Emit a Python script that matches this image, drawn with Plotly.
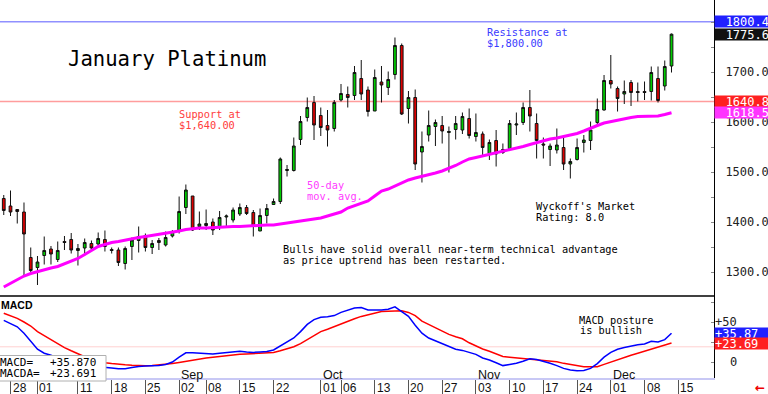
import numpy as np
import plotly.graph_objects as go

# ---------------- data ----------------
HOLIDAYS = ['2025-09-01']
dates = [str(d) for d in np.arange(np.datetime64('2025-07-25'), np.datetime64('2025-12-13'))
         if np.is_busday(d, holidays=HOLIDAYS)]

open_ = [1447,1432,1425,1420,1329,1309,1333,1346,1325,1361,
         1365,1343,1348,1357,1356,1365,1345,1344,1317,1351,
         1363,1373,1349,1363,1354,1372,1381,1429,1452,1391,
         1393,1400,1389,1410,1404,1416,1429,1419,1382,1413,
         1435,1441,1503,1503,1565,1609,1639,1613,1593,1587,
         1644,1655,1653,1687,1664,1622,1680,1669,1695,1753,
         1627,1649,1540,1574,1591,1593,1579,1585,1584,1607,
         1571,1576,1537,1563,1539,1547,1594,1599,1629,1597,
         1556,1545,1544,1549,1516,1525,1559,1563,1599,1624,
         1683,1667,1656,1679,1661,1661,1661,1687,1672,1712]
high = [1454,1463,1426,1439,1349,1332,1371,1352,1361,1372,
        1378,1356,1367,1363,1379,1383,1349,1349,1351,1369,
        1391,1377,1364,1368,1381,1384,1451,1475,1452,1421,
        1425,1407,1422,1415,1429,1437,1434,1424,1427,1436,
        1447,1529,1514,1569,1612,1649,1652,1629,1624,1644,
        1676,1671,1712,1724,1671,1705,1712,1701,1769,1757,
        1662,1665,1581,1623,1605,1612,1591,1612,1619,1627,
        1617,1581,1565,1584,1557,1604,1619,1639,1664,1617,
        1569,1557,1587,1571,1527,1567,1574,1601,1647,1694,
        1734,1671,1683,1684,1679,1681,1711,1711,1723,1777]
low = [1414,1412,1397,1292,1296,1274,1315,1315,1320,1344,
       1337,1313,1333,1344,1354,1341,1337,1312,1305,1324,
       1339,1341,1336,1344,1351,1369,1377,1416,1382,1384,
       1384,1374,1384,1391,1399,1412,1414,1371,1382,1397,
       1434,1436,1491,1501,1554,1601,1564,1572,1551,1581,
       1641,1629,1644,1644,1611,1622,1639,1654,1685,1614,
       1597,1504,1479,1561,1552,1557,1499,1565,1576,1567,
       1561,1531,1524,1511,1536,1544,1574,1594,1581,1527,
       1527,1512,1537,1504,1487,1523,1539,1544,1592,1623,
       1667,1621,1636,1632,1641,1644,1643,1639,1663,1699]
close = [1423,1420,1421,1376,1303,1320,1343,1336,1343,1359,
         1344,1347,1359,1348,1367,1351,1343,1319,1347,1364,
         1371,1349,1357,1359,1369,1381,1421,1464,1384,1396,
         1397,1384,1409,1412,1424,1429,1417,1392,1413,1427,
         1441,1526,1505,1552,1601,1629,1594,1589,1584,1639,
         1657,1649,1699,1656,1621,1689,1674,1685,1753,1616,
         1649,1516,1551,1593,1599,1582,1581,1597,1611,1573,
         1579,1549,1559,1536,1545,1597,1596,1629,1612,1563,
         1554,1552,1554,1516,1521,1549,1564,1584,1625,1683,
         1676,1647,1661,1659,1659,1659,1699,1643,1711,1775.6]
ma50 = [1270,1277,1285,1292,1297,1301,1304,1308,1311,1316,
        1321,1327,1335,1343,1351,1355,1359,1361,1364,1367,
        1369,1371,1373,1375,1377,1380,1382,1385,1387,1388,
        1388,1389,1390,1390,1391,1391,1392,1393,1394,1394,
        1394,1396,1397,1399,1401,1403,1405,1408,1412,1416,
        1420,1428,1433,1437,1442,1452,1462,1466,1472,1478,
        1484,1488,1491,1494,1498,1502,1507,1513,1520,1526,
        1529,1532,1535,1538,1541,1544,1547,1551,1555,1559,
        1562,1566,1568,1571,1574,1577,1582,1588,1593,1598,
        1601,1604,1607,1609,1611,1611,1611,1612,1615,1618.5]
macd = [52,48.5,44,36,26,16,11,8.5,5,2,
        -1,-3,-4.5,-5.5,-6,-6.5,-7.5,-8.5,-8.5,-7,
        -5.5,-5,-4.5,-4.5,-3,0,6,11.5,11.5,11,
        11,10,11,12,13,13.5,12.5,12,12.5,13,
        15,20,25,30,38,47,53,56,56.5,58,
        62,65,67.5,68,65,65,65,66,69,63,
        57,46,36,30,26.5,23,18.5,16,14.5,12,
        9.5,5,2.5,-1,-4.5,-3,-1.5,1,4,3,
        1,-1.5,-4.5,-8,-10,-11,-10.5,-8,-2,6,
        12,16,18,20,21.5,22.5,26,25,28,35.87]
macda = [61,58,54.5,50,45,38,33,28,22.5,18,
         14,10,6.5,3.5,1,-1,-2,-3,-3.5,-4,
         -4.5,-4.6,-4.3,-3.8,-3,-2,-0.5,1,2.5,4,
         5,6,7,8,9,9.6,10,10.7,11.2,11.7,
         12,14,16.5,19,23,28,33,38,41,44.5,
         48,51,54,57,59,61,63,63.5,64,64,
         62,58,51,47,43,38,34.5,31.5,29,24,
         20,16.3,13.5,10,7,6,5.2,4.7,3.8,3,
         2.5,1.5,0.3,-1.7,-3,-4.5,-5.8,-6,-5.8,-3,
         0,2.5,5.5,8.5,11,13.5,16,18.5,21,23.69]

tick_dates = ['2025-07-28','2025-08-01','2025-08-11','2025-08-18','2025-08-25','2025-09-02',
              '2025-09-08','2025-09-15','2025-09-22','2025-10-01','2025-10-06','2025-10-13',
              '2025-10-20','2025-10-27','2025-11-03','2025-11-10','2025-11-17','2025-11-24',
              '2025-12-01','2025-12-08','2025-12-15']
tick_text = ['28','01','11','18','25','02','08','15','22','01','06','13','20','27','03','10',
             '17','24','01','08','15']
month_dates = ['2025-09-02','2025-10-01','2025-11-03','2025-12-01']
month_text = ['Sep','Oct','Nov','Dec']
price_ticks = [1300, 1400, 1500, 1600, 1700]
resistance = 1800.4
support = 1640.8
macd_ref = 19

# ---------------- helpers ----------------
def pos(d):
    return int(np.busday_count(dates[0], d, holidays=HOLIDAYS))

xpos = [pos(d) for d in dates]
PLOT_W, PLOT_H = 714, 378
SPLIT = (PLOT_H - 296) / PLOT_H

def px(x):
    return x / PLOT_W

def py(y):
    return (PLOT_H - y) / PLOT_H

MONO = 'DejaVu Sans Mono'
SANS = 'Liberation Sans'

fig = go.Figure()
fig.add_trace(go.Candlestick(
    x=xpos, open=open_, high=high, low=low, close=close,
    increasing=dict(fillcolor='#00cc00', line=dict(color='#111111', width=1)),
    decreasing=dict(fillcolor='#dd0000', line=dict(color='#111111', width=1)),
    whiskerwidth=0, hoverinfo='skip', xaxis='x', yaxis='y'))
fig.add_trace(go.Scatter(x=xpos, y=ma50, mode='lines',
                         line=dict(color='#ff00ff', width=3), xaxis='x', yaxis='y'))
fig.add_trace(go.Scatter(x=xpos, y=macda, mode='lines',
                         line=dict(color='#ff0000', width=1.5), xaxis='x', yaxis='y2'))
fig.add_trace(go.Scatter(x=xpos, y=macd, mode='lines',
                         line=dict(color='#0000ff', width=1.5), xaxis='x', yaxis='y2'))

shapes = [
    dict(type='line', xref='paper', yref='y', x0=0, x1=1, y0=resistance, y1=resistance,
         line=dict(color='#9090ff', width=1.5), layer='below'),
    dict(type='line', xref='paper', yref='y', x0=0, x1=1, y0=support, y1=support,
         line=dict(color='#ff9d9d', width=1.5), layer='below'),
    dict(type='line', xref='paper', yref='y2', x0=0, x1=1, y0=macd_ref, y1=macd_ref,
         line=dict(color='#ffd0d0', width=1), layer='below'),
    dict(type='line', xref='paper', yref='paper', x0=0, x1=1, y0=SPLIT, y1=SPLIT,
         line=dict(color='#000000', width=1.5)),
    dict(type='rect', xref='paper', yref='paper', x0=px(-3), x1=px(106), y0=py(381), y1=py(355.5),
         line=dict(color='#b0b0b0', width=1), fillcolor='#ffffff'),
]

ann = []

def note(text, x, y, color='#000000', size=10.3, family=MONO, xanchor='left', bold=False):
    ann.append(dict(text=text, xref='paper', yref='paper', x=px(x), y=py(y),
                    xanchor=xanchor, yanchor='middle', showarrow=False,
                    font=dict(family=family, size=size, color=color,
                              weight='bold' if bold else 'normal')))

note('January Platinum', 66, 59, size=20.6)
note('Resistance at', 485, 31.5, color='#3a3aff')
note('$1,800.00', 485, 43, color='#3a3aff')
note('Support at', 177, 114, color='#ff3c3c')
note('$1,640.00', 177, 125.5, color='#ff3c3c')
note('50-day', 305, 185.5, color='#ff3cff')
note('mov. avg.', 305, 196.5, color='#ff3cff')
note("Wyckoff's Market", 534, 206)
note('Rating: 8.0', 534, 217)
note('Bulls have solid overall near-term technical advantage', 281, 249)
note('as price uptrend has been restarted.', 281, 260)
note('MACD posture', 577, 319.5)
note('is bullish', 578, 330)
note('MACD', -1, 304.5, size=10.5, family=SANS, bold=True)
note('MACD=', -2, 362, size=11)
note('+35.870', 48, 362, size=11)
note('MACDA=', -2, 373.5, size=11)
note('+23.691', 48, 373.5, size=11)
note('+50', 739, 322, size=12, color='#222222', xanchor='right')
note('0', 739, 362, size=12, color='#222222', xanchor='right')
note('\u2190', 767, 388, size=12, color='#ee0000', family='DejaVu Sans', bold=True, xanchor='right')

for d, t in zip(tick_dates, tick_text):
    ann.append(dict(text=t, xref='x', yref='paper', x=pos(d), y=py(388.5),
                    xanchor='left', yanchor='middle', showarrow=False, xshift=0,
                    font=dict(family=SANS, size=12, color='#111111')))
for d, t in zip(month_dates, month_text):
    ann.append(dict(text=t, xref='x', yref='paper', x=pos(d), y=py(375),
                    xanchor='left', yanchor='middle', showarrow=False, xshift=0,
                    font=dict(family=SANS, size=12.5, color='#111111')))

def valbox(text, yval, yref, bg, align):
    ann.append(dict(text=text, xref='paper', yref=yref, x=1, y=yval, xanchor='left',
                    yanchor='middle', showarrow=False, bgcolor=bg, width=54, height=11,
                    borderpad=0, align=align,
                    font=dict(family=MONO, size=12, color='#ffffff')))

valbox('1800.4', resistance, 'y', '#2020ff', 'right')
valbox('1775.6', close[-1], 'y', '#111111', 'right')
valbox('1640.8', support, 'y', '#ff2020', 'right')
valbox('1618.5', ma50[-1], 'y', '#ff33ff', 'right')
valbox('+35.87', macd[-1], 'y2', '#2020ff', 'left')
valbox('+23.69', macda[-1], 'y2', '#ff2020', 'left')

fig.update_layout(
    width=768, height=394, margin=dict(l=0, r=54, t=0, b=16, pad=0),
    paper_bgcolor='#ffffff', plot_bgcolor='#ffffff', showlegend=False,
    boxgap=0.42,
    xaxis=dict(domain=[0, 1], range=[-0.557, 105.3], anchor='y2', showline=True,
               linecolor='#c8c8f5', linewidth=1.5, ticks='outside', ticklen=16,
               tickcolor='#555555', tickwidth=1, tickmode='array',
               tickvals=[pos(d) for d in tick_dates], showticklabels=False,
               showgrid=False, zeroline=False, rangeslider=dict(visible=False)),
    yaxis=dict(domain=[SPLIT, 1], range=[1252, 1844], side='right', anchor='x',
               showline=True, linecolor='#000000', linewidth=1, ticks='inside',
               ticklen=3, tickcolor='#888888', tickmode='array', tickvals=price_ticks,
               ticktext=[f'{v:.1f}' for v in price_ticks],
               tickfont=dict(family=MONO, size=12, color='#222222'),
               minor=dict(ticks='inside', ticklen=3, tickcolor='#888888', dtick=50, showgrid=False),
               ticklabelstandoff=8, showgrid=False, zeroline=False),
    yaxis2=dict(domain=[0, SPLIT], range=[-20, 82.5], side='right', anchor='x',
                showline=True, linecolor='#000000', linewidth=1, ticks='inside',
                ticklen=3, tickcolor='#888888', tickmode='array', tickvals=[0, 25, 50, 75],
                showticklabels=False, showgrid=False, zeroline=False),
    shapes=shapes, annotations=ann,
)

fig.write_html('out.html', config={'displayModeBar': False, 'staticPlot': True},
               post_script="document.body.style.margin='0px';document.body.style.overflow='hidden';")
